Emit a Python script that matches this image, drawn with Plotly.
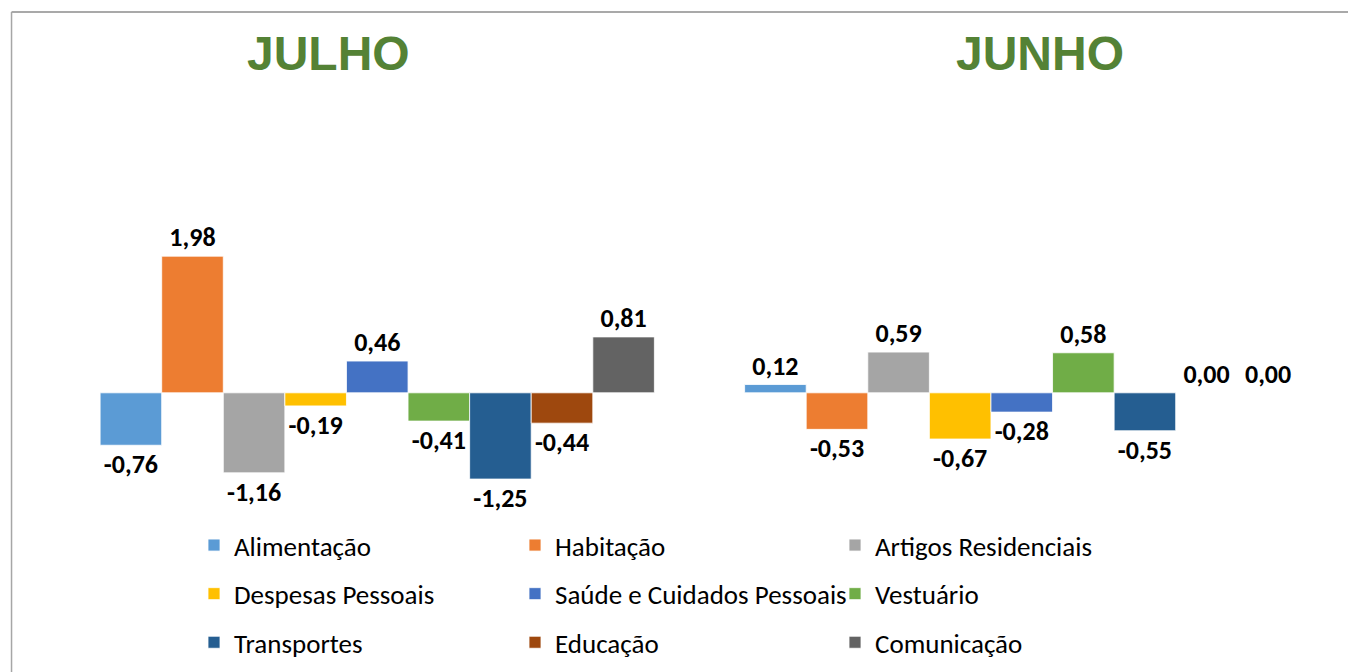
import plotly.graph_objects as go

months = ["JULHO", "JUNHO"]
series = ["Alimentação", "Habitação", "Artigos Residenciais", "Despesas Pessoais",
          "Saúde e Cuidados Pessoais", "Vestuário", "Transportes", "Educação", "Comunicação"]
alimentacao = [-0.76, 0.12]
habitacao = [1.98, -0.53]
artigos = [-1.16, 0.59]
despesas = [-0.19, -0.67]
saude = [0.46, -0.28]
vestuario = [-0.41, 0.58]
transportes = [-1.25, -0.55]
educacao = [-0.44, 0.00]
comunicacao = [0.81, 0.00]
values = [alimentacao, habitacao, artigos, despesas, saude, vestuario, transportes, educacao, comunicacao]
colors = ["#5B9BD5", "#ED7D31", "#A5A5A5", "#FFC000", "#4472C4", "#70AD47", "#255E91", "#9E480E", "#636363"]
legend_cols = ["legend", "legend2", "legend3"]

W, H = 1356, 672
OFF = 8  # page body margin offset
# desired screen positions of plot area: left 54.5, right 1344.5, top 103, bottom 517
L = 54.5 - OFF
R = W + OFF - 1344.5
T = 103 - OFF
B = H + OFF - 517
FONT = "Carlito, Calibri, 'Liberation Sans Narrow', 'Liberation Sans', Arial"

fig = go.Figure()
for i, (name, vals, col) in enumerate(zip(series, values, colors)):
    fig.add_trace(go.Bar(
        x=months, y=vals, name=name,
        marker=dict(color=col, line=dict(color="white", width=0.8)),
        text=[f"{v:.2f}".replace(".", ",") for v in vals],
        textposition="outside", cliponaxis=False,
        textfont=dict(family=FONT, size=26, color="black", weight="bold"),
        legend=legend_cols[i % 3], legendgroup=name,
    ))

pw = W - L - R
ph = H - T - B

def px_x(p):
    return (p - OFF - L) / pw

def px_y(p):
    return 1 - (p - OFF - T) / ph

shapes = [
    dict(type="line", xref="paper", yref="paper", x0=px_x(11), x1=px_x(W + 20), y0=px_y(12), y1=px_y(12),
         line=dict(color="#8C8C8C", width=1.5)),
    dict(type="line", xref="paper", yref="paper", x0=px_x(11), x1=px_x(11), y0=px_y(12), y1=px_y(H + 20),
         line=dict(color="#A6A6A6", width=1.5)),
]

annotations = []
for label, cx in zip(months, [328, 1040]):
    annotations.append(dict(text=f"<b>{label}</b>", x=px_x(cx), y=px_y(54), xref="paper", yref="paper",
                            xanchor="center", yanchor="middle", showarrow=False,
                            font=dict(family="'Liberation Sans', Arial", size=48, color="#548235")))

legend_common = dict(orientation="v", xref="container", yref="container", xanchor="left", yanchor="top",
                     font=dict(family=FONT, size=27, color="#000000"), tracegroupgap=10.5,
                     bgcolor="rgba(0,0,0,0)", itemwidth=30)
leg_x = [186, 507, 827]
layouts = {}
for k, lx in zip(legend_cols, leg_x):
    layouts[k] = dict(legend_common, x=lx / W, y=1 - 513 / H)

fig.update_layout(
    width=W, height=H,
    margin=dict(l=L, r=R, t=T, b=B, autoexpand=False),
    plot_bgcolor="white", paper_bgcolor="white",
    barmode="group", bargap=0.14, bargroupgap=0,
    showlegend=True,
    xaxis=dict(range=[-0.5, 1.5], showticklabels=False, showgrid=False, zeroline=False, showline=False,
               ticks=""),
    yaxis=dict(range=[-1.8, 4.2], showticklabels=False, showgrid=False, zeroline=False, showline=False,
               ticks=""),
    shapes=shapes, annotations=annotations,
    **layouts,
)

fig.write_html("out.html")
